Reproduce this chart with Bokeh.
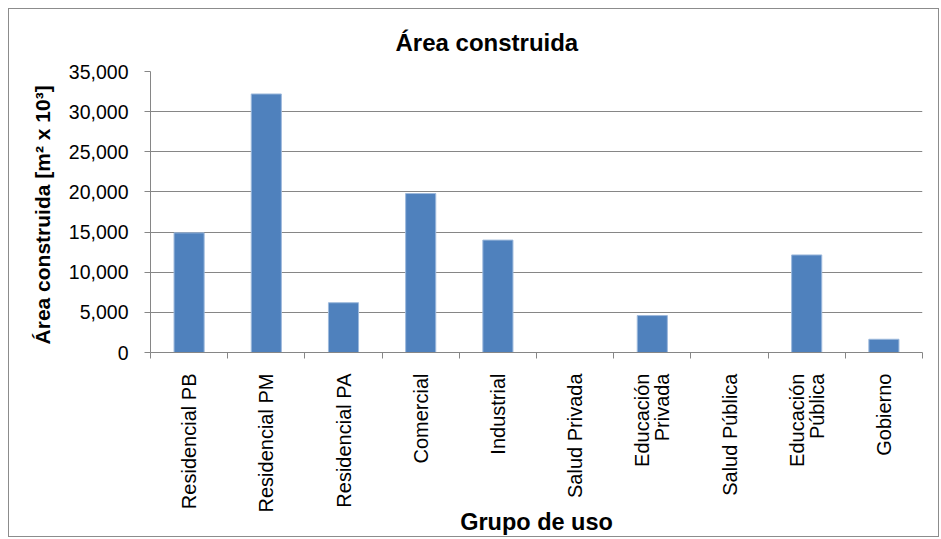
import math
from bokeh.plotting import figure
from bokeh.models import (Range1d, LinearAxis, FixedTicker, NumeralTickFormatter)
from bokeh.embed import file_html
from bokeh.resources import INLINE

# ---- data ----
categories = ["Residencial PB", "Residencial PM", "Residencial PA", "Comercial",
              "Industrial", "Salud Privada", "Educación\nPrivada", "Salud Pública",
              "Educación\nPública", "Gobierno"]
values = [14900, 32200, 6200, 19800, 14000, 0, 4600, 0, 12150, 1650]
y_ticks = [0, 5000, 10000, 15000, 20000, 25000, 30000, 35000]

title_text = "Área construida"
y_label = "Área construida  [m² x 10³]"
x_label = "Grupo de uso"

FONT = "Liberation Sans"
GRAY = "#868686"

n = len(categories)
centers = [i + 0.5 for i in range(n)]
bounds = list(range(n + 1))

p = figure(x_range=Range1d(0, n), y_range=Range1d(y_ticks[0], y_ticks[-1]),
           width=931, height=529, output_backend="svg", toolbar_location=None,
           x_axis_location=None, min_border_left=141, min_border_right=18,
           min_border_top=62, min_border_bottom=185)
p.styles = {"border": "1px solid #8c8c8c", "margin-left": "8px", "margin-top": "8px"}
p.outline_line_color = None
p.background_fill_color = "white"
p.border_fill_color = "white"

p.vbar(x=centers, top=values, width=0.39, fill_color="#4F81BD",
       line_color="#9DB9DC", line_width=1)

# title
p.title.text = title_text
p.title.text_font = FONT
p.title.text_font_size = "24px"
p.title.text_font_style = "bold"
p.title.text_color = "black"
p.title.align = "left"
p.title.offset = 245
p.title.standoff = 32

# y axis
ya = p.yaxis[0]
ya.ticker = FixedTicker(ticks=y_ticks)
ya.formatter = NumeralTickFormatter(format="0,0")
ya.axis_line_color = GRAY
ya.major_tick_line_color = GRAY
ya.major_tick_out = 6
ya.major_tick_in = 0
ya.minor_tick_line_color = None
ya.major_label_text_font = FONT
ya.major_label_text_font_size = "19.5px"
ya.major_label_text_color = "black"
ya.major_label_standoff = 16
ya.axis_label = y_label
ya.axis_label_text_font = FONT
ya.axis_label_text_font_size = "21px"
ya.axis_label_text_font_style = "bold"
ya.axis_label_text_color = "black"
ya.axis_label_standoff = 12

p.ygrid.ticker = FixedTicker(ticks=y_ticks)
p.ygrid.grid_line_color = GRAY
p.xgrid.grid_line_color = None

# x axis: labels at category centres, (minor) ticks at category boundaries
cat_axis = LinearAxis(ticker=FixedTicker(ticks=centers, minor_ticks=bounds),
                      major_label_overrides={c: lab for c, lab in zip(centers, categories)},
                      axis_line_color=GRAY, major_tick_line_color=None,
                      major_tick_out=0, major_tick_in=0,
                      minor_tick_line_color=GRAY, minor_tick_out=6, minor_tick_in=0,
                      major_label_orientation=math.pi / 2,
                      major_label_standoff=15,
                      major_label_text_font=FONT,
                      major_label_text_font_size="20px",
                      major_label_text_line_height=0.9,
                      major_label_text_color="black",
                      axis_label=x_label,
                      axis_label_text_font=FONT,
                      axis_label_text_font_size="23.5px",
                      axis_label_text_font_style="bold",
                      axis_label_text_color="black",
                      axis_label_standoff=-6)
p.add_layout(cat_axis, "below")

open("out.html", "w").write(file_html(p, INLINE))
